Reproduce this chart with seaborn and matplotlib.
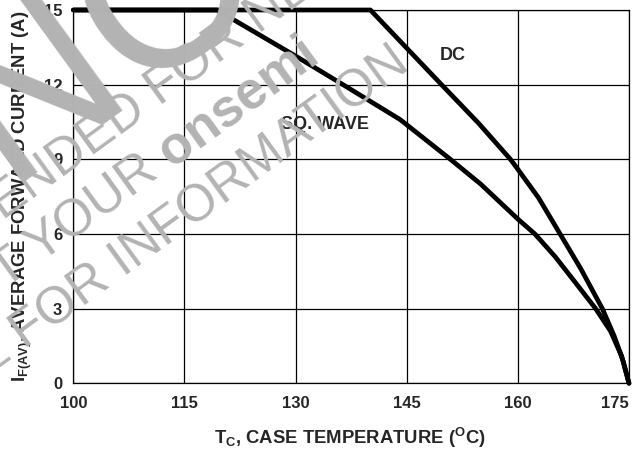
"""
Forward current derating curve (DC and square wave) vs case temperature,
with the grey "not recommended" watermark on top.
"""

import matplotlib

matplotlib.use("Agg")

import matplotlib.pyplot as plt
import pandas as pd
import seaborn as sns

# ── Data ─────────────────────────────────────────────────────────────────────

dc_temp = [100, 140.1, 144.1, 149.7, 154.7, 159.0, 160.0, 162.8, 165.7, 168.5, 171.4, 173.0, 174.2, 175.0]
dc_current = [15, 15, 13.75, 12.0, 10.45, 9.0, 8.6, 7.45, 6.0, 4.6, 3.0, 1.9, 0.9, 0.0]

sq_temp = [100, 119.4, 130.0, 136.4, 144.1, 150.9, 155.0, 160.0, 162.3, 165.0, 167.5, 170.5, 172.5, 174.0, 175.0]
sq_current = [15, 15, 13.15, 12.0, 10.6, 9.0, 8.0, 6.6, 6.0, 5.1, 4.15, 3.0, 2.1, 1.1, 0.0]

x_ticks = [100, 115, 130, 145, 160, 175]
y_ticks = [0, 3, 6, 9, 12, 15]

curve_labels = ["DC", "SQ. WAVE"]
label_pos = [(151.2, 13.18), (134.0, 10.4)]

FIG_W, FIG_H = 642, 454
GREY = "#b3b3b3"


def px(x, y):
    """Pixel position (y down) -> figure fraction."""
    return x / FIG_W, 1 - y / FIG_H


def main() -> None:
    sns.set_style("white")
    plt.rcParams["font.family"] = ["Liberation Sans", "DejaVu Sans"]
    plt.rcParams["mathtext.fontset"] = "custom"
    plt.rcParams["mathtext.rm"] = "Liberation Sans:bold"
    plt.rcParams["mathtext.default"] = "rm"

    df = pd.concat(
        [
            pd.DataFrame({"temp": dc_temp, "current": dc_current, "mode": curve_labels[0]}),
            pd.DataFrame({"temp": sq_temp, "current": sq_current, "mode": curve_labels[1]}),
        ],
        ignore_index=True,
    )

    fig = plt.figure(figsize=(FIG_W / 100, FIG_H / 100), dpi=100)
    left, bottom = px(73.3, 383.3)
    right, top = px(629, 10)
    ax = fig.add_axes([left, bottom, right - left, top - bottom])

    sns.lineplot(
        data=df, x="temp", y="current", hue="mode",
        palette={curve_labels[0]: "black", curve_labels[1]: "black"},
        linewidth=3.4, estimator=None, legend=False, ax=ax,
    )
    for line in ax.lines:
        line.set_clip_on(False)
        line.set_solid_capstyle("round")
        line.set_solid_joinstyle("round")

    ax.set_xlim(100, 175)
    ax.set_ylim(0, 15)
    ax.set_xticks(x_ticks)
    ax.set_yticks(y_ticks)
    ax.grid(True, color="black", linewidth=0.9)
    ax.set_axisbelow(True)
    for spine in ax.spines.values():
        spine.set_color("black")
        spine.set_linewidth(0.9)

    ax.tick_params(axis="both", length=0, labelsize=12)
    ax.tick_params(axis="x", pad=9)
    ax.tick_params(axis="y", pad=8)
    for lab in ax.get_xticklabels() + ax.get_yticklabels():
        lab.set_fontweight("bold")
    ax.get_xticklabels()[-1].set_ha("right")

    ax.set_xlabel(r"T$_\mathrm{C}$, CASE TEMPERATURE ($^\mathrm{O}$C)",
                  fontsize=13.3, fontweight="bold", va="center")
    ax.xaxis.set_label_coords(0.498, -0.1465)
    ax.set_ylabel(r"I$_\mathrm{F(AV)}$, AVERAGE FORWARD CURRENT (A)",
                  fontsize=13.3, fontweight="bold", va="center")
    ax.yaxis.set_label_coords(-0.092, 0.5)

    for text, (tx, ty) in zip(curve_labels, label_pos):
        ax.text(tx, ty, text, ha="center", va="center", fontsize=13, fontweight="bold")

    # ── Watermark ────────────────────────────────────────────────────────────
    wm = dict(color=GREY, rotation=36, rotation_mode="anchor", va="baseline", zorder=20)
    fig.text(*px(6, 182), "NOT", fontsize=158, ha="left", **wm)
    fig.text(*px(160, 107), "RECOMMENDED ", fontsize=37, ha="right", **wm)
    fig.text(*px(160, 107), "FOR NEW DESIGN", fontsize=37, ha="left", **wm)
    fig.text(*px(172, 168), "CONTACT YOUR ", fontsize=37, ha="right", **wm)
    fig.text(*px(172, 168), "onsemi", fontsize=38, fontweight="bold", ha="left", **wm)
    fig.text(*px(25, 350), "REPRESENTATIVE ", fontsize=37, ha="right", **wm)
    fig.text(*px(25, 350), "FOR INFORMATION", fontsize=37, ha="left", **wm)

    fig.savefig("out.png", dpi=100)
    plt.close(fig)


if __name__ == "__main__":
    main()
